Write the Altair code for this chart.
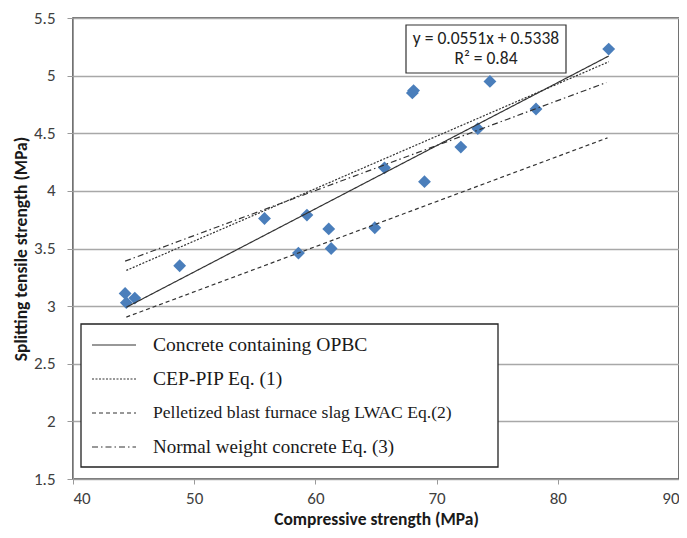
import altair as alt
import pandas as pd

# ---- data ----
comp_strength = [44.3, 44.4, 45.1, 48.8, 55.8, 58.6, 59.3, 61.1, 61.3, 64.9,
                 65.7, 68.0, 68.1, 69.0, 72.0, 73.4, 74.4, 78.2, 84.2]
split_strength = [3.11, 3.03, 3.07, 3.35, 3.76, 3.46, 3.79, 3.67, 3.50, 3.68,
                  4.20, 4.85, 4.87, 4.08, 4.38, 4.54, 4.95, 4.71, 5.23]

series = ["Concrete containing OPBC",
          "CEP-PIP Eq. (1)",
          "Pelletized blast furnace slag LWAC Eq.(2)",
          "Normal weight concrete Eq. (3)"]
line_x_start = [44.4, 44.4, 44.4, 44.3]
line_x_end = [84.2, 84.2, 84.1, 84.0]
line_y_start = [2.99, 3.31, 2.905, 3.39]
line_y_end = [5.17, 5.12, 4.46, 4.94]

equation_lines = ["y = 0.0551x + 0.5338", "R² = 0.84"]
x_ticks = [40, 50, 60, 70, 80, 90]
y_ticks = [1.5, 2, 2.5, 3, 3.5, 4, 4.5, 5, 5.5]

# ---- tables ----
pts = pd.DataFrame({"x": comp_strength, "y": split_strength})
rows = []
for s, xa, xb, ya, yb in zip(series, line_x_start, line_x_end, line_y_start, line_y_end):
    rows.append({"series": s, "x": xa, "y": ya})
    rows.append({"series": s, "x": xb, "y": yb})
lines_df = pd.DataFrame(rows)
leg_df = pd.DataFrame({"series": series, "row": list(range(len(series)))})
eq_df = pd.DataFrame({"text": equation_lines, "i": list(range(len(equation_lines)))})

W, H = 606, 461
SANS = "Carlito, Liberation Sans, Arial, sans-serif"
SERIF = "Liberation Serif, Times New Roman, serif"

dash_scale = alt.Scale(domain=series, range=[[1, 0], [2, 1.5], [4, 3], [6, 3, 1.5, 3]])

x_enc = alt.X("x:Q", scale=alt.Scale(domain=[40, 90], nice=False, zero=False),
              axis=alt.Axis(values=x_ticks, grid=False, title="Compressive strength (MPa)",
                            tickSize=5, labelPadding=6, titlePadding=4))
y_enc = alt.Y("y:Q", scale=alt.Scale(domain=[1.5, 5.5], nice=False, zero=False),
              axis=alt.Axis(values=y_ticks, grid=True, format=".1~f",
                            title="Splitting tensile strength (MPa)",
                            tickSize=6, labelPadding=12,
                            titleX=-52, titleY=H / 2, titleAngle=-90,
                            titleAlign="center", titleBaseline="middle"))

points = alt.Chart(pts).mark_point(shape="diamond", filled=True, size=165,
                                   color="#4A7EBB", opacity=1).encode(x=x_enc, y=y_enc)

lines = alt.Chart(lines_df).mark_line(color="#333333", strokeWidth=1.2).encode(
    x="x:Q", y="y:Q",
    strokeDash=alt.StrokeDash("series:N", scale=dash_scale, legend=None),
    detail="series:N",
)

one = alt.Data(values=[{}])
eq_box = alt.Chart(one).mark_rect(fill="white", stroke="#333333", strokeWidth=1.2).encode(
    x=alt.value(333), x2=alt.value(493), y=alt.value(7), y2=alt.value(55))
eq_text = alt.Chart(eq_df).mark_text(font=SANS, fontSize=17.5, color="#222222",
                                     align="center", baseline="middle").encode(
    x=alt.value(413),
    y=alt.Y("i:Q", scale=alt.Scale(domain=[0, 1], range=[21, 41]), axis=None),
    text="text:N")

leg_box = alt.Chart(one).mark_rect(fill="white", stroke="#222222", strokeWidth=1.3).encode(
    x=alt.value(8), x2=alt.value(425), y=alt.value(306), y2=alt.value(449))

row_y = alt.Y("row:Q", scale=alt.Scale(domain=[0, 3], range=[327, 429]), axis=None)
leg_lines = alt.Chart(leg_df).mark_rule(color="#333333", strokeWidth=1.2).encode(
    x=alt.value(19), x2=alt.value(63), y=row_y,
    strokeDash=alt.StrokeDash("series:N", scale=dash_scale, legend=None))
leg_text = alt.Chart(leg_df).mark_text(font=SERIF, color="#1a1a1a", align="left",
                                       baseline="middle").encode(
    x=alt.value(80), y=row_y, text="series:N",
    size=alt.Size("row:O", scale=alt.Scale(type="ordinal", domain=[0, 1, 2, 3],
                                           range=[19.6, 19.6, 17.6, 19.0]), legend=None))

main = alt.layer(points, lines, eq_box)
eq_layer = alt.layer(eq_text)
legend_layer = alt.layer(leg_box, leg_lines, leg_text)

chart = alt.layer(main, eq_layer, legend_layer).resolve_scale(y="independent").properties(
    width=W, height=H,
    autosize=alt.AutoSizeParams(type="none"),
    padding={"left": 65, "top": 10, "right": 0, "bottom": 51},
).configure_view(stroke="#444444", strokeWidth=1.5).configure_axis(
    domainColor="#9a9a9a", tickColor="#9a9a9a", gridColor="#a8a8a8", gridWidth=1.3,
    labelFont=SANS, labelFontSize=17, labelColor="#404040",
    titleFont=SANS, titleFontSize=17.5, titleFontWeight="bold", titleColor="#1a1a1a",
)

chart.save("out.html", embed_options={"renderer": "svg", "actions": False})
